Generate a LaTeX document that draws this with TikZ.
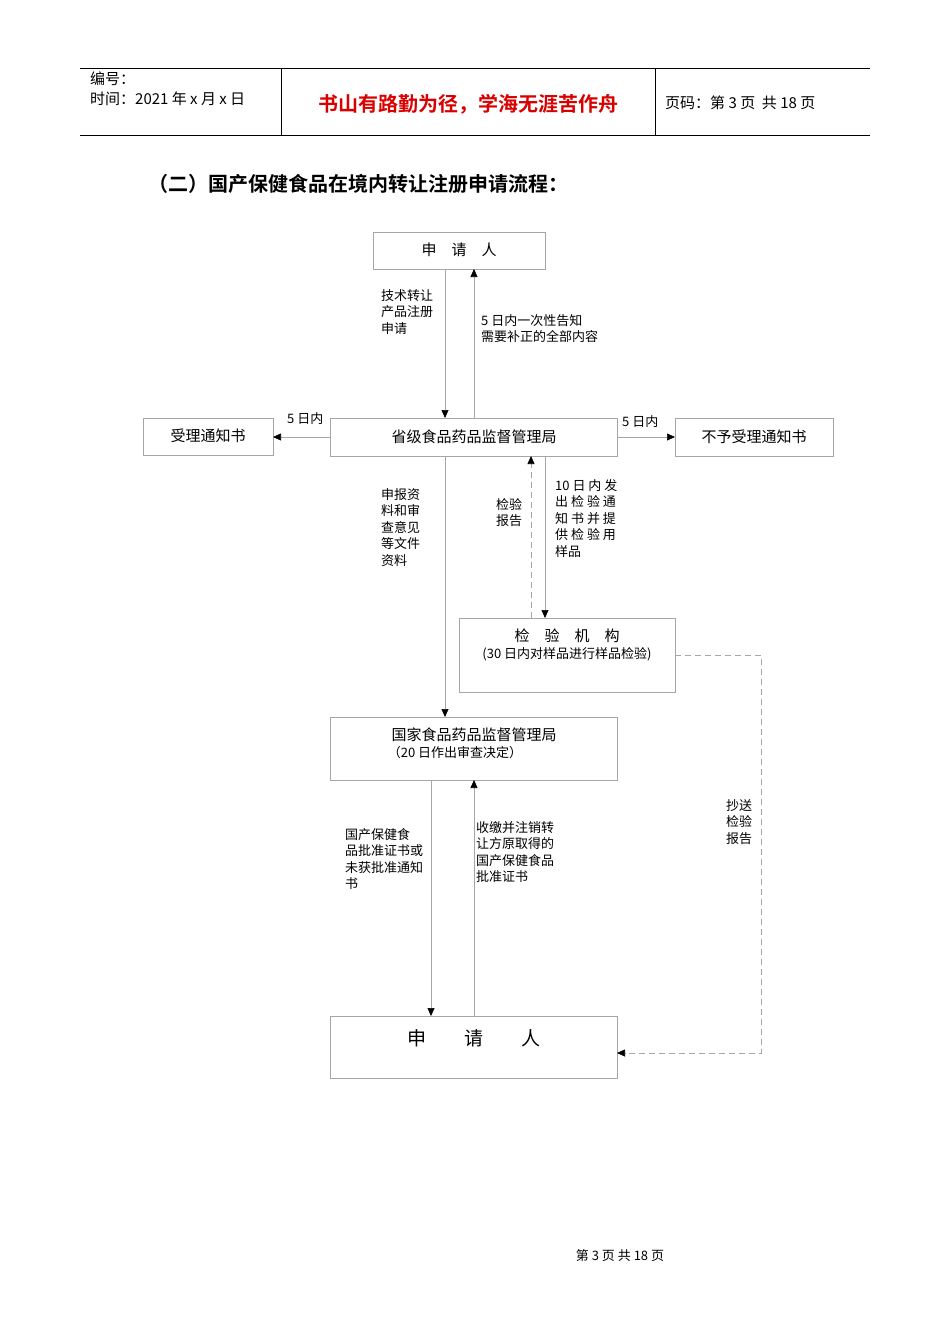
\documentclass[tikz,border=0pt]{standalone}
\usepackage{fontspec}
\setmainfont{Liberation Serif}
\newfontfamily\cjk{Noto Sans CJK SC}
\newfontfamily\cjkb{Noto Sans CJK SC Bold}
\usetikzlibrary{arrows.meta}
\begin{document}
\begin{tikzpicture}[x=1pt,y=-1pt,
  box/.style={draw=gray!70,line width=0.6pt},
  lbl/.style={anchor=north west,align=left,font=\cjk\fontsize{13}{16.5}\selectfont,inner sep=0pt},
  arr/.style={draw=gray!70,line width=0.6pt,-{Triangle[length=8pt,width=7pt,black]}},
  darr/.style={arr,dash pattern=on 6pt off 4pt}]
\useasboundingbox[fill=white] (0,0) rectangle (950,1344);
% header
\draw[line width=0.6pt] (80,68) -- (870,68) (80,135) -- (870,135) (281,68) -- (281,135) (655,68) -- (655,135);
\node[anchor=west,font=\cjk\fontsize{15}{17}\selectfont,inner sep=0] (h1) at (90,79) {编号：};
\node[anchor=west,font=\cjk\fontsize{15}{17}\selectfont,inner sep=0] (h2) at (90,99) {时间：2021 年 x 月 x 日};
\node[font=\cjkb\fontsize{20}{24}\selectfont,text=red!85!black] (h3) at (468,104) {书山有路勤为径，学海无涯苦作舟};
\node[anchor=west,font=\cjk\fontsize{15}{17}\selectfont,inner sep=0] (h4) at (665,103) {页码：第 3 页\ \ 共 18 页};
\node[anchor=west,font=\cjkb\fontsize{20}{24}\selectfont,inner sep=0] (title) at (148,184) {（二）国产保健食品在境内转让注册申请流程：};
% boxes
\draw[box] (373,232) rectangle (545,269); \node[font=\cjk\fontsize{15}{17}\selectfont] (A) at (459,250) {申\quad 请\quad 人};
\draw[box] (330,418) rectangle (617,456); \node[font=\cjk\fontsize{15}{17}\selectfont] (B) at (474,437) {省级食品药品监督管理局};
\draw[box] (143,418) rectangle (273,455); \node[font=\cjk\fontsize{15}{17}\selectfont] (L) at (208,436) {受理通知书};
\draw[box] (675,418) rectangle (833,456); \node[font=\cjk\fontsize{15}{17}\selectfont] (R) at (754,437) {不予受理通知书};
\draw[box] (459,618) rectangle (675,692);
\node[font=\cjk\fontsize{15}{17}\selectfont] (C) at (567,636) {检\quad 验\quad 机\quad 构};
\node[font=\cjk\fontsize{13}{15}\selectfont] (C2) at (567,654) {(30 日内对样品进行样品检验)};
\draw[box] (330,717) rectangle (617,780);
\node[font=\cjk\fontsize{15}{17}\selectfont] (D) at (474,735) {国家食品药品监督管理局};
\node[font=\cjk\fontsize{13}{15}\selectfont] (D2) at (455,753) {（20 日作出审查决定）};
\draw[box] (330,1016) rectangle (617,1078);
\node[font=\cjk\fontsize{19}{22}\selectfont] (E) at (474,1038) {申\qquad 请\qquad 人};
% arrows
\draw[arr] (445,269) -- (445,418);
\draw[arr] (474,418) -- (474,269);
\draw[arr] (330,437) -- (273,437);
\draw[arr] (617,437) -- (675,437);
\draw[arr] (445,456) -- (445,717);
\draw[darr] (531,618) -- (531,456);
\draw[arr] (545,456) -- (545,618);
\draw[arr] (431,780) -- (431,1016);
\draw[arr] (474,1016) -- (474,780);
\draw[darr] (675,655) -- (761,655) -- (761,1053) -- (617,1053);
% labels
\node[lbl] (l1) at (381,289) {技术转让\\产品注册\\申请};
\node[lbl] (l2) at (481,314) {5 日内一次性告知\\需要补正的全部内容};
\node[lbl] (l3) at (287,412) {5 日内};
\node[lbl] (l4) at (622,415) {5 日内};
\node[lbl] (l5) at (381,488) {申报资\\料和审\\查意见\\等文件\\资料};
\node[lbl] (l6) at (496,498) {检验\\报告};
\node[lbl] (l7) at (555,479) {10\ 日\ 内\ 发\\出\ 检\ 验\ 通\\知\ 书\ 并\ 提\\供\ 检\ 验\ 用\\样品};
\node[lbl] (l8) at (345,828) {国产保健食\\品批准证书或\\未获批准通知\\书};
\node[lbl] (l9) at (476,821) {收缴并注销转\\让方原取得的\\国产保健食品\\批准证书};
\node[lbl] (l10) at (726,799) {抄送\\检验\\报告};
\node[font=\cjk\fontsize{13}{15}\selectfont] (f) at (620,1256) {第\ 3\ 页\ 共\ 18\ 页};
\end{tikzpicture}
\end{document}
